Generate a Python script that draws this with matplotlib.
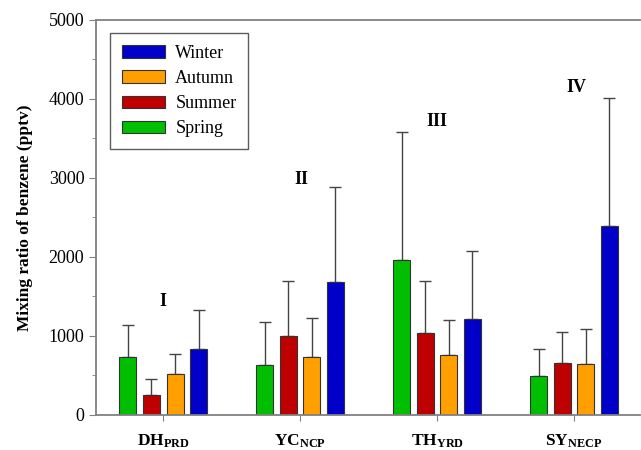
import numpy as np
import matplotlib
matplotlib.use('Agg')
import matplotlib.pyplot as plt
from matplotlib.ticker import MultipleLocator

plt.rcParams['font.family'] = 'Liberation Serif'
plt.rcParams['mathtext.fontset'] = 'custom'
plt.rcParams['mathtext.rm'] = 'Liberation Serif'
plt.rcParams['mathtext.bf'] = 'Liberation Serif:bold'

# data
sites = [r'$\mathbf{DH_{PRD}}$', r'$\mathbf{YC_{NCP}}$', r'$\mathbf{TH_{YRD}}$', r'$\mathbf{SY_{NECP}}$']
seasons = ['Spring', 'Summer', 'Autumn', 'Winter']
means = {
    'Spring': [734, 633, 1962, 494],
    'Summer': [253, 1000, 1038, 658],
    'Autumn': [519, 734, 759, 646],
    'Winter': [835, 1683, 1215, 2395],
}
upper = {
    'Spring': [1139, 1177, 3582, 835],
    'Summer': [456, 1696, 1696, 1051],
    'Autumn': [772, 1228, 1203, 1089],
    'Winter': [1329, 2890, 2076, 4013],
}
numerals = ['I', 'II', 'III', 'IV']
numeral_y = [1440, 2975, 3710, 4140]
numeral_x = [0.0, 0.01, 0.0, 0.02]

colors = {'Spring': '#00bf00', 'Summer': '#bf0000', 'Autumn': '#ffa000', 'Winter': '#0000c8'}

fig = plt.figure(figsize=(6.41, 4.5), dpi=100)
ax = fig.add_axes([0.150, 0.078, 0.848, 0.878])

x = np.arange(len(sites))
step = 0.172
width = 0.124
handles = {}
for i, s in enumerate(seasons):
    pos = x + (i - 1.5) * step
    m = np.array(means[s])
    err = np.array(upper[s]) - m
    b = ax.bar(pos, m, width, color=colors[s], edgecolor='#333333', linewidth=0.8, zorder=2)
    ax.errorbar(pos, m, yerr=[np.zeros_like(err), err], fmt='none', ecolor='#444444',
                elinewidth=1.0, capsize=4.5, capthick=1.0, zorder=1)
    handles[s] = b

for xi, lab, yv, dx in zip(x, numerals, numeral_y, numeral_x):
    ax.text(xi + dx, yv, lab, ha='center', va='center', fontsize=13, fontweight='bold')

ax.set_xlim(-0.49, 3.48)
ax.set_ylim(0, 5000)
ax.set_xticks(x)
ax.set_xticklabels(sites, fontsize=12.5)
ax.tick_params(axis='x', direction='out', length=4, pad=9, color='#808080')
ax.yaxis.set_major_locator(MultipleLocator(1000))
ax.yaxis.set_minor_locator(MultipleLocator(500))
ax.tick_params(axis='y', which='major', direction='out', length=5, labelsize=13, color='#808080')
ax.tick_params(axis='y', which='minor', direction='out', length=3, color='#808080')
ax.set_ylabel('Mixing ratio of benzene (pptv)', fontsize=12.5, fontweight='bold', labelpad=11)

for side in ['left', 'bottom', 'top']:
    ax.spines[side].set_color('#808080')
    ax.spines[side].set_linewidth(1.3)
ax.spines['right'].set_visible(False)

order = ['Winter', 'Autumn', 'Summer', 'Spring']
leg = ax.legend([handles[s] for s in order], order, loc='upper left',
                bbox_to_anchor=(0.026, 0.967), borderaxespad=0, fontsize=13,
                frameon=True, fancybox=False, edgecolor='#333333',
                handlelength=2.4, handleheight=0.7, labelspacing=0.46,
                borderpad=0.65, handletextpad=0.55)
leg.get_frame().set_linewidth(1.0)

plt.savefig('out.png', dpi=100)
